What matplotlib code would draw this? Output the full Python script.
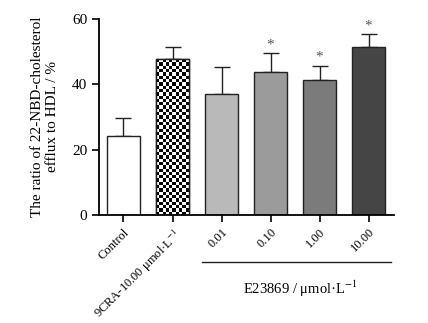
import numpy as np
import matplotlib
matplotlib.use("Agg")
import matplotlib.pyplot as plt
from matplotlib.lines import Line2D

plt.rcParams['font.family'] = ['Liberation Serif', 'DejaVu Serif']
plt.rcParams['mathtext.fontset'] = 'stix'

categories = ['Control', r'9CRA-10.00 μmol·L$^{-1}$', '0.01', '0.10', '1.00', '10.00']
values = [24.3, 47.6, 37.0, 43.8, 41.4, 51.4]
errors = [5.5, 3.9, 8.3, 5.7, 4.3, 3.9]
significant = [False, False, False, True, True, True]
colors = ['white', 'white', '#b9b9b9', '#9b9b9b', '#7b7b7b', '#454545']
group_label = r'E23869 / μmol·L$^{-1}$'
yticks = [0, 20, 40, 60]

fig = plt.figure(figsize=(4.28, 3.23), dpi=100)
ax = fig.add_axes([0.2313, 0.3344, 0.6893, 0.6068])

x = np.arange(len(categories))
ax.set_xlim(-0.5, 5.52)
ax.set_ylim(0, 60)
bars = ax.bar(x, values, width=0.67, color=colors, edgecolor='#222222', linewidth=1.0, zorder=2)
ax.errorbar(x, values, yerr=[np.zeros(len(errors)), errors], fmt='none', ecolor='#222222',
            elinewidth=1.0, capsize=6, capthick=1.0, zorder=1)

# checkerboard fill for the 9CRA bar
b = bars[1]
p0 = ax.transData.transform((b.get_x(), 0))
p1 = ax.transData.transform((b.get_x() + b.get_width(), b.get_height()))
cell = 3.3
ncol = max(1, int(round((p1[0] - p0[0]) / cell)))
nrow = max(1, int(round((p1[1] - p0[1]) / cell)))
board = (np.indices((nrow, ncol)).sum(axis=0) % 2)
ax.imshow(board, cmap='gray', extent=(b.get_x(), b.get_x() + b.get_width(), 0, b.get_height()),
          aspect='auto', interpolation='nearest', zorder=2.5, clip_path=b, clip_on=True)
ax.bar([x[1]], [values[1]], width=0.67, color='none', edgecolor='#222222', linewidth=1.0, zorder=3)
ax.set_xlim(-0.5, 5.52)
ax.set_ylim(0, 60)

for xi, v, e, s in zip(x, values, errors, significant):
    if s:
        ax.text(xi, v + e + 2.5, '*', ha='center', va='center', fontsize=11, color='#555555')

ax.set_yticks(yticks)
ax.set_xticks(x)
ax.set_xticklabels(categories, rotation=45, ha='right', rotation_mode='anchor', fontsize=9)
ax.tick_params(axis='y', labelsize=11, length=5, width=1.2, direction='out')
ax.tick_params(axis='x', length=5, width=1.2, direction='out', pad=3)
for s in ['top', 'right']:
    ax.spines[s].set_visible(False)
for s in ['left', 'bottom']:
    ax.spines[s].set_linewidth(1.3)
ax.set_ylabel('The ratio of 22-NBD-cholesterol\nefflux to HDL / %', fontsize=11, labelpad=9,
              linespacing=1.25)

trans = ax.get_xaxis_transform()
ax.add_line(Line2D([1.6, 5.46], [-0.238, -0.238], transform=trans, color='#222222',
                   linewidth=1.0, clip_on=False))
ax.text(3.6, -0.375, group_label, transform=trans, ha='center', va='center', fontsize=10.5)

fig.savefig('out.png', dpi=100)
